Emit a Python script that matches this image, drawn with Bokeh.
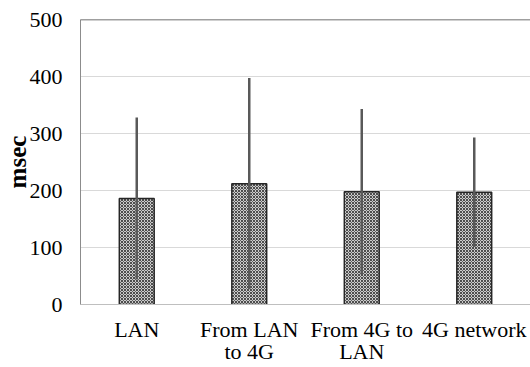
from bokeh.plotting import figure
from bokeh.models import ColumnDataSource, Span, FactorRange, CategoricalAxis
from bokeh.embed import file_html
from bokeh.resources import INLINE

categories = ["LAN", "From LAN to 4G", "From 4G to LAN", "4G network"]
label_line1 = ["LAN", "From LAN", "From 4G to", "4G network"]
label_line2 = [" ", "to 4G", "LAN", "  "]
mean_ms = [186, 212, 198, 197]
std_ms = [140, 183, 143, 94]
y_ticks = [0, 100, 200, 300, 400, 500]
y_label = "msec"

lower = [m - s for m, s in zip(mean_ms, std_ms)]
upper = [m + s for m, s in zip(mean_ms, std_ms)]
src = ColumnDataSource(dict(cat=categories, mean=mean_ms, lower=lower, upper=upper))

p = figure(x_range=FactorRange(*categories), y_range=(0, 500),
           frame_width=450, frame_height=285, x_axis_location=None,
           min_border_left=80, min_border_right=0, min_border_top=19, min_border_bottom=60,
           output_backend="svg", toolbar_location=None)
p.extra_x_ranges = {"l1": FactorRange(*label_line1), "l2": FactorRange(*label_line2)}

p.vbar(x="cat", top="mean", width=0.31, source=src,
       fill_color="#cccccc", line_color="#262626", line_width=1.5,
       hatch_pattern="diagonal_cross", hatch_color="#4d4d4d", hatch_scale=3, hatch_weight=1)
p.segment(x0="cat", y0="lower", x1="cat", y1="upper", source=src,
          line_color="#595959", line_width=2.5, line_cap="square")

p.add_layout(Span(location=500, dimension="width", line_color="#404040", line_width=1.5))

p.outline_line_color = None
p.xgrid.grid_line_color = None
p.ygrid.grid_line_color = "#d9d9d9"
p.ygrid.ticker = y_ticks

p.yaxis.ticker = y_ticks
p.yaxis.major_tick_line_color = None
p.yaxis.major_tick_out = 0
p.yaxis.minor_tick_line_color = None
p.yaxis.axis_line_color = "#8c8c8c"
p.yaxis.major_label_text_font = "Liberation Serif"
p.yaxis.major_label_text_font_size = "22px"
p.yaxis.major_label_text_color = "black"
p.yaxis.major_label_standoff = 18
p.yaxis.axis_label = y_label
p.yaxis.axis_label_text_font = "Liberation Serif"
p.yaxis.axis_label_text_font_style = "bold"
p.yaxis.axis_label_text_font_size = "25px"
p.yaxis.axis_label_text_color = "black"
p.yaxis.axis_label_standoff = -4


def cat_axis(range_name, standoff, line_color):
    ax = CategoricalAxis(x_range_name=range_name)
    ax.major_tick_line_color = None
    ax.major_tick_out = 0
    ax.major_tick_in = 0
    ax.axis_line_color = line_color
    ax.major_label_text_font = "Liberation Serif"
    ax.major_label_text_font_size = "22px"
    ax.major_label_text_color = "black"
    ax.major_label_standoff = standoff
    return ax


p.add_layout(cat_axis("l1", 12, "#bfbfbf"), "below")
p.add_layout(cat_axis("l2", -6, None), "below")

open("out.html", "w").write(file_html(p, INLINE))
